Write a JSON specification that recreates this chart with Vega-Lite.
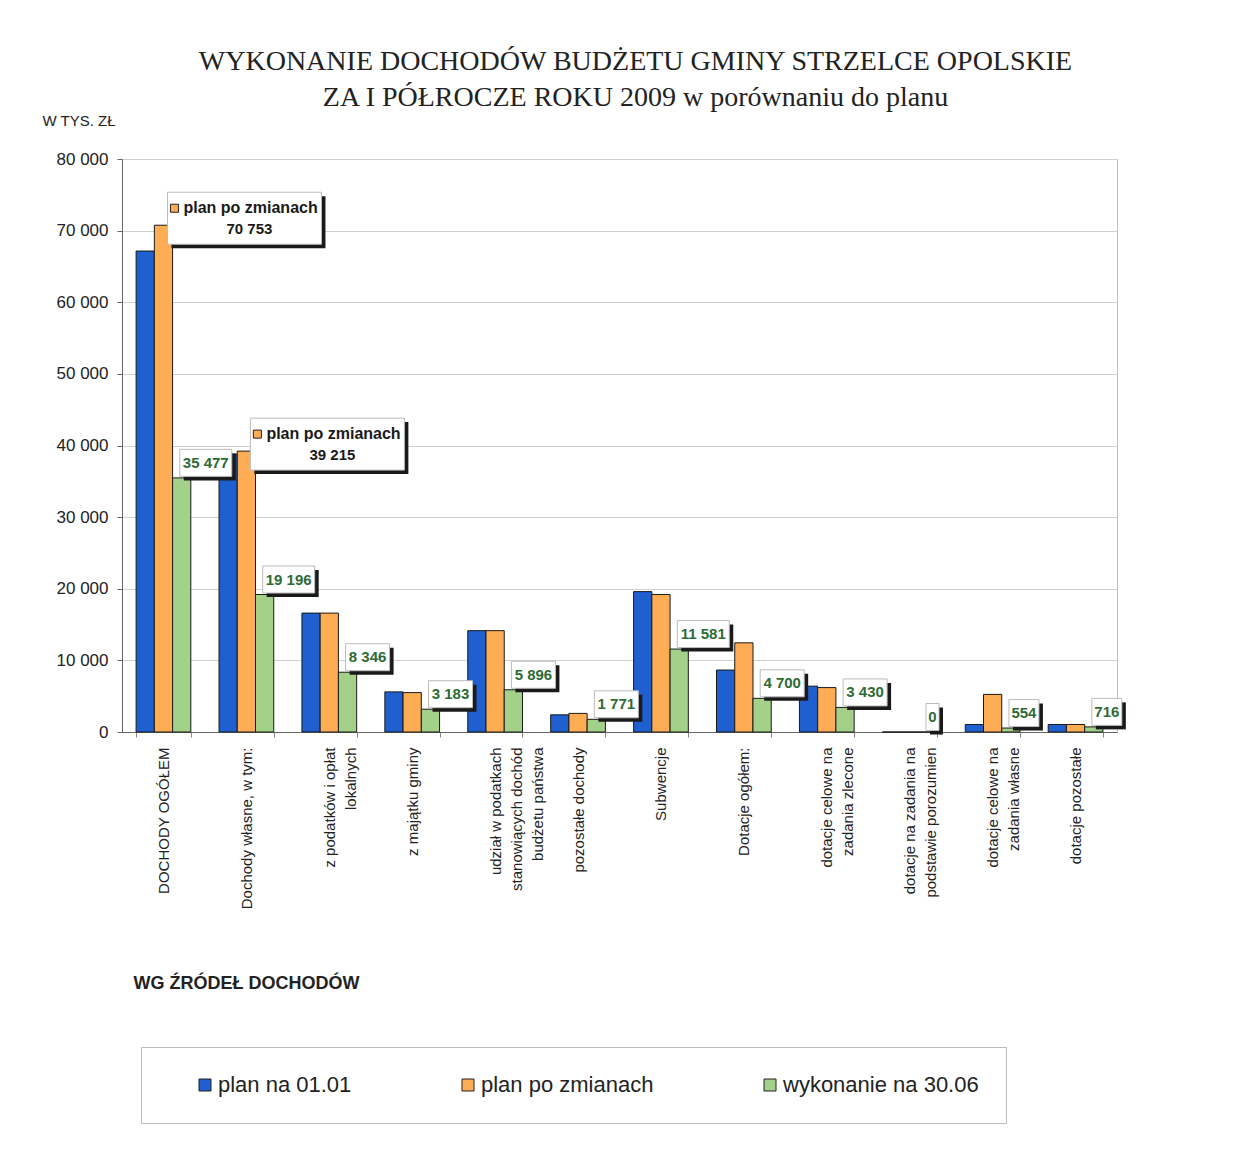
{
  "$schema": "https://vega.github.io/schema/vega-lite/v6.json",
  "width": 995,
  "height": 573,
  "autosize": {"type": "none"},
  "padding": {"left": 122, "top": 159, "right": 121, "bottom": 429},
  "background": "white",
  "config": {
    "locale": {"number": {"decimal": ",", "thousands": " ", "grouping": [3], "currency": ["", " zł"]}},
    "view": {"stroke": "#bbbbbb", "strokeWidth": 1}
  },
  "title": {
    "text": "WYKONANIE DOCHODÓW BUDŻETU GMINY STRZELCE OPOLSKIE",
    "subtitle": "ZA I PÓŁROCZE ROKU 2009 w porównaniu do planu",
    "font": "Liberation Serif",
    "fontSize": 28,
    "fontWeight": "normal",
    "color": "#222222",
    "subtitleFont": "Liberation Serif",
    "subtitleFontSize": 28,
    "subtitleColor": "#222222",
    "subtitlePadding": 8,
    "anchor": "middle",
    "dx": 16,
    "offset": 1
  },
  "data": {
    "values": [
      {"zrodlo": "DOCHODY OGÓŁEM", "seria": "plan na 01.01", "wartosc": 67150},
      {"zrodlo": "DOCHODY OGÓŁEM", "seria": "plan po zmianach", "wartosc": 70753},
      {"zrodlo": "DOCHODY OGÓŁEM", "seria": "wykonanie na 30.06", "wartosc": 35477},
      {"zrodlo": "Dochody własne, w tym:", "seria": "plan na 01.01", "wartosc": 38800},
      {"zrodlo": "Dochody własne, w tym:", "seria": "plan po zmianach", "wartosc": 39215},
      {"zrodlo": "Dochody własne, w tym:", "seria": "wykonanie na 30.06", "wartosc": 19196},
      {"zrodlo": "z podatków i opłat\nlokalnych", "seria": "plan na 01.01", "wartosc": 16600},
      {"zrodlo": "z podatków i opłat\nlokalnych", "seria": "plan po zmianach", "wartosc": 16600},
      {"zrodlo": "z podatków i opłat\nlokalnych", "seria": "wykonanie na 30.06", "wartosc": 8346},
      {"zrodlo": "z majątku gminy", "seria": "plan na 01.01", "wartosc": 5600},
      {"zrodlo": "z majątku gminy", "seria": "plan po zmianach", "wartosc": 5500},
      {"zrodlo": "z majątku gminy", "seria": "wykonanie na 30.06", "wartosc": 3183},
      {"zrodlo": "udział w podatkach\nstanowiących dochód\nbudżetu państwa", "seria": "plan na 01.01", "wartosc": 14150},
      {"zrodlo": "udział w podatkach\nstanowiących dochód\nbudżetu państwa", "seria": "plan po zmianach", "wartosc": 14150},
      {"zrodlo": "udział w podatkach\nstanowiących dochód\nbudżetu państwa", "seria": "wykonanie na 30.06", "wartosc": 5896},
      {"zrodlo": "pozostałe dochody", "seria": "plan na 01.01", "wartosc": 2400},
      {"zrodlo": "pozostałe dochody", "seria": "plan po zmianach", "wartosc": 2600},
      {"zrodlo": "pozostałe dochody", "seria": "wykonanie na 30.06", "wartosc": 1771},
      {"zrodlo": "Subwencje", "seria": "plan na 01.01", "wartosc": 19600},
      {"zrodlo": "Subwencje", "seria": "plan po zmianach", "wartosc": 19200},
      {"zrodlo": "Subwencje", "seria": "wykonanie na 30.06", "wartosc": 11581},
      {"zrodlo": "Dotacje ogółem:", "seria": "plan na 01.01", "wartosc": 8650},
      {"zrodlo": "Dotacje ogółem:", "seria": "plan po zmianach", "wartosc": 12450},
      {"zrodlo": "Dotacje ogółem:", "seria": "wykonanie na 30.06", "wartosc": 4700},
      {"zrodlo": "dotacje celowe na\nzadania zlecone", "seria": "plan na 01.01", "wartosc": 6400},
      {"zrodlo": "dotacje celowe na\nzadania zlecone", "seria": "plan po zmianach", "wartosc": 6200},
      {"zrodlo": "dotacje celowe na\nzadania zlecone", "seria": "wykonanie na 30.06", "wartosc": 3430},
      {"zrodlo": "dotacje na zadania na\npodstawie porozumien", "seria": "plan na 01.01", "wartosc": 0},
      {"zrodlo": "dotacje na zadania na\npodstawie porozumien", "seria": "plan po zmianach", "wartosc": 0},
      {"zrodlo": "dotacje na zadania na\npodstawie porozumien", "seria": "wykonanie na 30.06", "wartosc": 0},
      {"zrodlo": "dotacje celowe na\nzadania własne", "seria": "plan na 01.01", "wartosc": 1050},
      {"zrodlo": "dotacje celowe na\nzadania własne", "seria": "plan po zmianach", "wartosc": 5250},
      {"zrodlo": "dotacje celowe na\nzadania własne", "seria": "wykonanie na 30.06", "wartosc": 554},
      {"zrodlo": "dotacje pozostałe", "seria": "plan na 01.01", "wartosc": 1050},
      {"zrodlo": "dotacje pozostałe", "seria": "plan po zmianach", "wartosc": 1050},
      {"zrodlo": "dotacje pozostałe", "seria": "wykonanie na 30.06", "wartosc": 716}
    ]
  },
  "encoding": {
    "x": {
      "field": "zrodlo",
      "type": "nominal",
      "scale": {
        "domain": ["DOCHODY OGÓŁEM", "Dochody własne, w tym:", "z podatków i opłat\nlokalnych", "z majątku gminy", "udział w podatkach\nstanowiących dochód\nbudżetu państwa", "pozostałe dochody", "Subwencje", "Dotacje ogółem:", "dotacje celowe na\nzadania zlecone", "dotacje na zadania na\npodstawie porozumien", "dotacje celowe na\nzadania własne", "dotacje pozostałe"],
        "paddingInner": 0.34,
        "paddingOuter": 0.17
      },
      "axis": {
        "title": "WG ŹRÓDEŁ DOCHODÓW",
        "titleFont": "Liberation Sans",
        "titleFontSize": 18,
        "titleFontWeight": "bold",
        "titleColor": "#222222",
        "titleAnchor": "start",
        "titleAlign": "left",
        "titleBaseline": "alphabetic",
        "titleX": 11,
        "titleY": 256,
        "labelAngle": -90,
        "labelAlign": "right",
        "labelBaseline": "middle",
        "labelExpr": "isString(datum.value) ? split(datum.value, '\\n') : ''",
        "labelFont": "Liberation Sans",
        "labelFontSize": 15,
        "labelColor": "#222222",
        "labelLineHeight": 21,
        "labelPadding": 10,
        "labelLimit": 400,
        "tickBand": "extent",
        "tickSize": 5,
        "tickColor": "#888888",
        "domainColor": "#666666"
      }
    },
    "y": {
      "field": "wartosc",
      "type": "quantitative",
      "scale": {"domain": [0, 80000], "nice": false},
      "axis": {
        "title": "W TYS. ZŁ",
        "titleAngle": 0,
        "titleAlign": "left",
        "titleBaseline": "alphabetic",
        "titleX": -80,
        "titleY": -34,
        "titleFont": "Liberation Sans",
        "titleFontSize": 15,
        "titleFontWeight": "normal",
        "titleColor": "#222222",
        "values": [0, 10000, 20000, 30000, 40000, 50000, 60000, 70000, 80000],
        "format": ",.0f",
        "labelFont": "Liberation Sans",
        "labelFontSize": 17,
        "labelColor": "#222222",
        "labelPadding": 9,
        "tickSize": 5,
        "tickColor": "#666666",
        "domainColor": "#666666",
        "grid": true,
        "gridColor": "#d0d0d0",
        "gridWidth": 1
      }
    }
  },
  "layer": [
    {
      "mark": {"type": "bar", "stroke": "#1a1a1a", "strokeWidth": 1},
      "encoding": {
        "xOffset": {"field": "seria", "scale": {"domain": ["plan na 01.01", "plan po zmianach", "wykonanie na 30.06"]}},
        "color": {
          "field": "seria",
          "type": "nominal",
          "scale": {"domain": ["plan na 01.01", "plan po zmianach", "wykonanie na 30.06"], "range": ["#1f5fd0", "#ffad55", "#a3d18a"]},
          "legend": {
            "title": null,
            "orient": "none",
            "legendX": 19,
            "legendY": 888,
            "direction": "horizontal",
            "columns": 3,
            "columnPadding": 79,
            "padding": 27,
            "symbolOffset": 26,
            "symbolType": "square",
            "symbolSize": 144,
            "symbolStrokeColor": "#222222",
            "symbolStrokeWidth": 1,
            "labelFont": "Liberation Sans",
            "labelFontSize": 22,
            "labelColor": "#222222",
            "labelOffset": 2,
            "labelLimit": 400,
            "strokeColor": "#bbbbbb",
            "fillColor": "white"
          }
        }
      }
    },
    {
      "transform": [{"filter": "datum.seria == 'wykonanie na 30.06' && datum.wartosc >= 10000"}],
      "layer": [
        {"mark": {"type": "bar", "width": 52, "xOffset": 46.3, "yOffset": -24.5, "y2Offset": 2.5, "fill": "#1a1a1a"}, "encoding": {"y2": {"field": "wartosc"}}},
        {"mark": {"type": "bar", "width": 52, "xOffset": 42.3, "yOffset": -28.5, "y2Offset": -1.5, "fill": "white", "stroke": "#bbbbbb", "strokeWidth": 1}, "encoding": {"y2": {"field": "wartosc"}}},
        {"mark": {"type": "text", "dx": 42.3, "dy": -15, "font": "Liberation Sans", "fontSize": 15, "fontWeight": "bold", "fill": "#2e6b35", "align": "center", "baseline": "middle"}, "encoding": {"text": {"field": "wartosc", "type": "quantitative", "format": ","}}}
      ]
    },
    {
      "transform": [{"filter": "datum.seria == 'wykonanie na 30.06' && datum.wartosc >= 1000 && datum.wartosc < 10000"}],
      "layer": [
        {"mark": {"type": "bar", "width": 44, "xOffset": 42.3, "yOffset": -24.5, "y2Offset": 2.5, "fill": "#1a1a1a"}, "encoding": {"y2": {"field": "wartosc"}}},
        {"mark": {"type": "bar", "width": 44, "xOffset": 38.3, "yOffset": -28.5, "y2Offset": -1.5, "fill": "white", "stroke": "#bbbbbb", "strokeWidth": 1}, "encoding": {"y2": {"field": "wartosc"}}},
        {"mark": {"type": "text", "dx": 38.3, "dy": -15, "font": "Liberation Sans", "fontSize": 15, "fontWeight": "bold", "fill": "#2e6b35", "align": "center", "baseline": "middle"}, "encoding": {"text": {"field": "wartosc", "type": "quantitative", "format": ","}}}
      ]
    },
    {
      "transform": [{"filter": "datum.seria == 'wykonanie na 30.06' && datum.wartosc >= 100 && datum.wartosc < 1000"}],
      "layer": [
        {"mark": {"type": "bar", "width": 30, "xOffset": 35.3, "yOffset": -24.5, "y2Offset": 2.5, "fill": "#1a1a1a"}, "encoding": {"y2": {"field": "wartosc"}}},
        {"mark": {"type": "bar", "width": 30, "xOffset": 31.3, "yOffset": -28.5, "y2Offset": -1.5, "fill": "white", "stroke": "#bbbbbb", "strokeWidth": 1}, "encoding": {"y2": {"field": "wartosc"}}},
        {"mark": {"type": "text", "dx": 31.3, "dy": -15, "font": "Liberation Sans", "fontSize": 15, "fontWeight": "bold", "fill": "#2e6b35", "align": "center", "baseline": "middle"}, "encoding": {"text": {"field": "wartosc", "type": "quantitative", "format": ","}}}
      ]
    },
    {
      "transform": [{"filter": "datum.seria == 'wykonanie na 30.06' && datum.wartosc < 100"}],
      "layer": [
        {"mark": {"type": "bar", "width": 13, "xOffset": 26.8, "yOffset": -24.5, "y2Offset": 2.5, "fill": "#1a1a1a"}, "encoding": {"y2": {"field": "wartosc"}}},
        {"mark": {"type": "bar", "width": 13, "xOffset": 22.8, "yOffset": -28.5, "y2Offset": -1.5, "fill": "white", "stroke": "#bbbbbb", "strokeWidth": 1}, "encoding": {"y2": {"field": "wartosc"}}},
        {"mark": {"type": "text", "dx": 22.8, "dy": -15, "font": "Liberation Sans", "fontSize": 15, "fontWeight": "bold", "fill": "#2e6b35", "align": "center", "baseline": "middle"}, "encoding": {"text": {"field": "wartosc", "type": "quantitative", "format": ","}}}
      ]
    },
    {
      "transform": [{"filter": "datum.seria == 'plan po zmianach' && datum.wartosc > 30000"}],
      "layer": [
        {"mark": {"type": "bar", "width": 154, "xOffset": 85, "yOffset": -29, "y2Offset": 23, "fill": "#1a1a1a"}, "encoding": {"y2": {"field": "wartosc"}}},
        {"mark": {"type": "bar", "width": 154, "xOffset": 81, "yOffset": -33, "y2Offset": 19, "fill": "white", "stroke": "#bbbbbb", "strokeWidth": 1}, "encoding": {"y2": {"field": "wartosc"}}},
        {"mark": {"type": "point", "shape": "square", "size": 64, "filled": true, "fill": "#ffad55", "stroke": "#222222", "strokeWidth": 1, "opacity": 1, "xOffset": 11, "yOffset": -17}},
        {"mark": {"type": "text", "dx": 20, "dy": -17, "font": "Liberation Sans", "fontSize": 16, "fontWeight": "bold", "fill": "#1a1a1a", "align": "left", "baseline": "middle"}, "encoding": {"text": {"field": "seria", "type": "nominal"}}},
        {"mark": {"type": "text", "dx": 86, "dy": 4, "font": "Liberation Sans", "fontSize": 15, "fontWeight": "bold", "fill": "#1a1a1a", "align": "center", "baseline": "middle"}, "encoding": {"text": {"field": "wartosc", "type": "quantitative", "format": ","}}}
      ]
    }
  ]
}
